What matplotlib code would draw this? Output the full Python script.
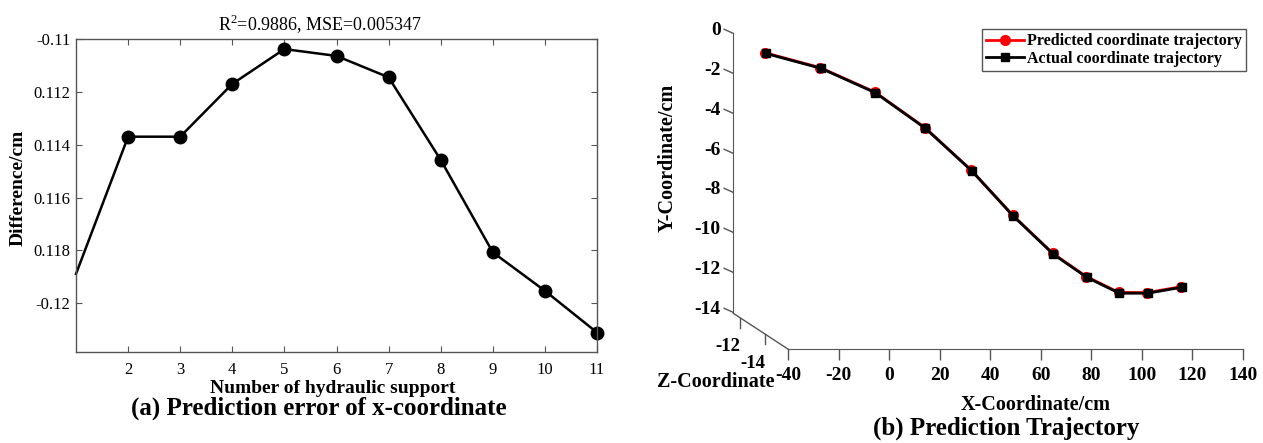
import matplotlib

matplotlib.use("Agg")
import matplotlib.pyplot as plt  # noqa: E402
from matplotlib.lines import Line2D  # noqa: E402
from matplotlib.markers import MarkerStyle  # noqa: E402
from matplotlib.path import Path  # noqa: E402
from matplotlib.transforms import Affine2D, ScaledTranslation  # noqa: E402

plt.rcParams["font.family"] = "Liberation Serif"
plt.rcParams["mathtext.fontset"] = "custom"
plt.rcParams["mathtext.rm"] = "Liberation Serif"
plt.rcParams["axes.unicode_minus"] = False

# ---- (a) prediction error of x-coordinate
SUPPORT = [1, 2, 3, 4, 5, 6, 7, 8, 9, 10, 11]
DIFF = [-0.11889, -0.11369, -0.11369, -0.11169, -0.11037, -0.11063,
        -0.11144, -0.11457, -0.11807, -0.11953, -0.12111]
SUPPORT_TICKS = [2, 3, 4, 5, 6, 7, 8, 9, 10, 11]
DIFF_TICKS = [-0.110, -0.112, -0.114, -0.116, -0.118, -0.120]
DIFF_TICK_LABELS = ["-0.11", "0.112", "0.114", "0.116", "0.118", "-0.12"]
DIFF_LIM = (-0.12186, -0.110)

# ---- (b) prediction trajectory
ACT_X = [-27.2, -5.3, 16.3, 36.1, 54.5, 70.9, 86.8, 100.0, 112.9, 124.2, 137.7]
ACT_Y = [-1.01, -1.76, -2.99, -4.78, -6.92, -9.19, -11.11, -12.27, -13.07, -13.07, -12.77]
PRED_X = [-27.4, -5.5, 16.0, 35.9, 54.2, 70.7, 86.6, 99.8, 112.7, 124.0, 137.5]
PRED_Y = [-0.98, -1.73, -2.95, -4.74, -6.88, -9.15, -11.07, -12.23, -13.03, -13.04, -12.74]
X_TICKS = [-40, -20, 0, 20, 40, 60, 80, 100, 120, 140]
Y_TICKS = [0, -2, -4, -6, -8, -10, -12, -14]
Z_TICKS = [-12, -14]
X_LIM = (-40, 140)
Y_LIM = (-14.08, 0)
Z_LIM = (-11.46, -15.87)

W, H = 1263, 443
AXIS_GRAY = "#555555"


def box(l, t, r, b):
    return [l / W, 1 - b / H, (r - l) / W, (b - t) / H]


fig = plt.figure(figsize=(W / 100, H / 100), dpi=100)
px = Affine2D().scale(1 / W, -1 / H).translate(0, 1) + fig.transFigure

# ---------------- panel (a)
ax = fig.add_axes(box(76, 39.3, 597, 352.3))
# the first point sits on the left frame edge and carries no marker in the original
ax.plot(SUPPORT, DIFF, color="black", lw=1.8, marker="o", ms=9,
        markevery=list(range(1, len(SUPPORT))), clip_on=False)
ax.set_xlim(1, 11)
ax.set_ylim(*DIFF_LIM)
ax.set_xticks(SUPPORT_TICKS)
ax.set_yticks(DIFF_TICKS, DIFF_TICK_LABELS)
for s in ax.spines.values():
    s.set_color(AXIS_GRAY)
    s.set_linewidth(1)
ax.tick_params(direction="in", length=4, width=0.8, color=AXIS_GRAY,
               top=True, right=True, labelsize=12)
ax.tick_params(axis="x", pad=7)
ax.tick_params(axis="y", pad=4)
ax.set_title(r"$\mathrm{R}^2$=0.9886, MSE=0.005347", fontsize=13, x=0.468, pad=6.5)
ax.set_xlabel("Number of hydraulic support", fontsize=14, fontweight="bold")
ax.xaxis.set_label_coords(0.493, -0.088)
ax.set_ylabel("Difference/cm", fontsize=14, fontweight="bold")
ax.yaxis.set_label_coords(-0.095, 0.5265)
fig.text(319 / W, 1 - 415 / H, "(a) Prediction error of x-coordinate",
         ha="center", va="baseline", fontsize=18, fontweight="bold")

# ---------------- panel (b): MATLAB-like 3D look, back plane + front x axis
back = (733.3, 313.3)
front = (788.3, 349.3)

axb = fig.add_axes(box(back[0], 33.3, back[0] + 454.4, back[1]))
axf = fig.add_axes(box(front[0], 69.3, front[0] + 454.4, front[1]))
for a in (axb, axf):
    a.patch.set_visible(False)
    a.set_xlim(*X_LIM)
    for s in a.spines.values():
        s.set_visible(False)

p_line, = axb.plot(PRED_X, PRED_Y, color="red", lw=2, marker="o", ms=7,
                   label="Predicted coordinate trajectory")
a_line, = axb.plot(ACT_X, ACT_Y, color="black", lw=2, marker="s", ms=6,
                   label="Actual coordinate trajectory")
axb.set_ylim(*Y_LIM)
axb.set_xticks([])
axb.spines["left"].set_visible(True)
axb.spines["left"].set_color(AXIS_GRAY)
axb.tick_params(axis="y", direction="out", length=7.2, width=1, color=AXIS_GRAY, pad=2)
axb.set_yticks(Y_TICKS, [str(v) for v in Y_TICKS], fontsize=14, fontweight="bold")
tick_mark = MarkerStyle(Path([(0, 0), (-1, 0.45)], [Path.MOVETO, Path.LINETO]))
for t in axb.yaxis.get_major_ticks():
    t.tick1line.set_marker(tick_mark)
    t.tick1line.set_markersize(14.4)
    t.label1.set_transform(t.label1.get_transform()
                           + ScaledTranslation(0, 4.5 / 100, fig.dpi_scale_trans))
axb.set_ylabel("Y-Coordinate/cm", fontsize=14.5, fontweight="bold")
axb.yaxis.set_label_coords(-0.122, 0.5546)

axf.set_yticks([])
axf.spines["bottom"].set_visible(True)
axf.spines["bottom"].set_color(AXIS_GRAY)
axf.tick_params(axis="x", direction="out", length=8, width=1, color=AXIS_GRAY, pad=4.5)
axf.set_xticks(X_TICKS, [str(v) for v in X_TICKS], fontsize=14, fontweight="bold")
axf.set_xlabel("X-Coordinate/cm", fontsize=14.5, fontweight="bold")
axf.xaxis.set_label_coords(0.545, -0.163)

# z axis from the back corner to the front corner
fig.add_artist(Line2D([back[0], front[0]], [back[1], front[1]], transform=px,
                      color=AXIS_GRAY, lw=1))
for z in Z_TICKS:
    f = (z - Z_LIM[0]) / (Z_LIM[1] - Z_LIM[0])
    zx = back[0] + f * (front[0] - back[0])
    zy = back[1] + f * (front[1] - back[1])
    fig.add_artist(Line2D([zx, zx], [zy, zy + 10], transform=px, color=AXIS_GRAY, lw=1))
    fig.text(zx - 12, zy + 29, str(z), transform=px, ha="center", va="center",
             fontsize=13.5, fontweight="bold")
fig.text(775, 382, "Z-Coordinate", transform=px, ha="right", va="center",
         fontsize=14.5, fontweight="bold")

leg = axb.legend(handles=[p_line, a_line], loc="upper right",
                 bbox_to_anchor=(1245.7 / W, 1 - 29.3 / H), bbox_transform=fig.transFigure,
                 borderaxespad=0, fancybox=False, framealpha=1, edgecolor=AXIS_GRAY,
                 prop={"weight": "bold", "size": 11.5}, handlelength=2.4,
                 handletextpad=0.15, labelspacing=0.1, borderpad=0.25)
leg.get_frame().set_linewidth(1)

fig.text(1006 / W, 1 - 435 / H, "(b) Prediction Trajectory",
         ha="center", va="baseline", fontsize=18, fontweight="bold")

fig.savefig("out.png", dpi=100)
